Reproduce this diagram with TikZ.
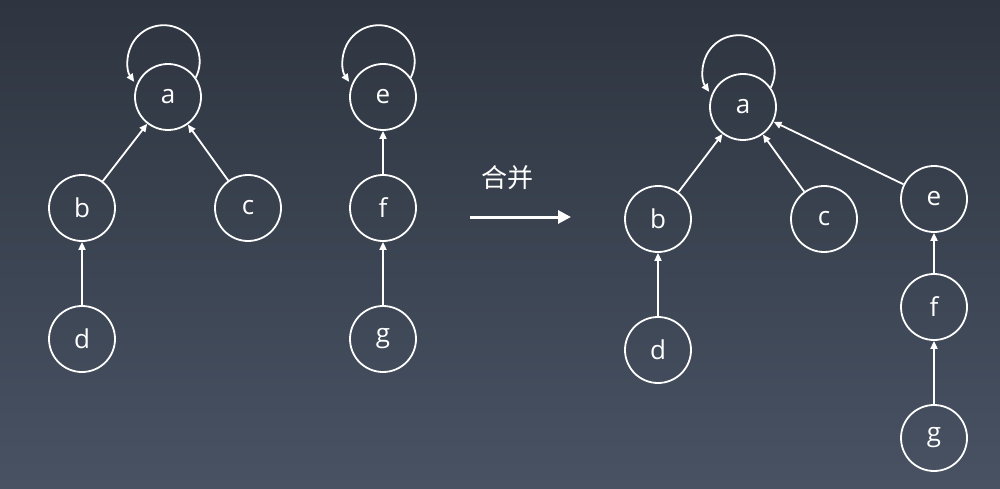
\documentclass[tikz,border=0pt]{standalone}
\usepackage{fontspec}
\setmainfont{Open Sans}
\newfontfamily\cjk{Noto Sans CJK SC}
\usetikzlibrary{arrows.meta}

\definecolor{bgtop}{HTML}{2E3540}
\definecolor{bgbottom}{HTML}{485263}

\begin{document}
\begin{tikzpicture}[x=1pt,y=1pt,
  vertex/.style={circle,draw=white,line width=1.8pt,minimum size=66pt,inner sep=0pt,
    text=white,font=\fontsize{26}{26}\selectfont},
  arr/.style={draw=white,line width=1.8pt,-{Triangle[length=8pt,width=7pt]}}]
  % background
  \shade[top color=bgtop,bottom color=bgbottom] (0,0) rectangle (1000,488);

  % first tree
  \node[vertex] (a1) at (168,391) {a};
  \node[vertex] (b1) at (82,280)  {b};
  \node[vertex] (c1) at (248,280) {c};
  \node[vertex] (d1) at (82,149)  {d};
  \draw[arr] (b1) -- (a1);
  \draw[arr] (c1) -- (a1);
  \draw[arr] (d1) -- (b1);
  \draw[arr] (a1.35) arc[start angle=-27,end angle=215,radius=36pt];

  % second tree
  \node[vertex] (e1) at (383,391) {e};
  \node[vertex] (f1) at (383,280) {f};
  \node[vertex] (g1) at (383,149) {g};
  \draw[arr] (f1) -- (e1);
  \draw[arr] (g1) -- (f1);
  \draw[arr] (e1.35) arc[start angle=-27,end angle=215,radius=36pt];

  % merge
  \node[text=white,font=\cjk\fontsize{26}{26}\selectfont] (lbl) at (507,310) {合并};
  \coordinate (from) at (470,271);
  \coordinate (to) at (571,271);
  \draw[draw=white,line width=3pt,-{Triangle[length=13pt,width=13pt]}] (from) -- (to);

  % merged tree
  \node[vertex] (a2) at (743,381) {a};
  \node[vertex] (b2) at (658,269) {b};
  \node[vertex] (c2) at (824,269) {c};
  \node[vertex] (d2) at (658,138) {d};
  \node[vertex] (e2) at (934,289) {e};
  \node[vertex] (f2) at (934,181) {f};
  \node[vertex] (g2) at (934,50)  {g};
  \draw[arr] (b2) -- (a2);
  \draw[arr] (c2) -- (a2);
  \draw[arr] (d2) -- (b2);
  \draw[arr] (e2) -- (a2);
  \draw[arr] (f2) -- (e2);
  \draw[arr] (g2) -- (f2);
  \draw[arr] (a2.35) arc[start angle=-27,end angle=215,radius=36pt];
\end{tikzpicture}
\end{document}
